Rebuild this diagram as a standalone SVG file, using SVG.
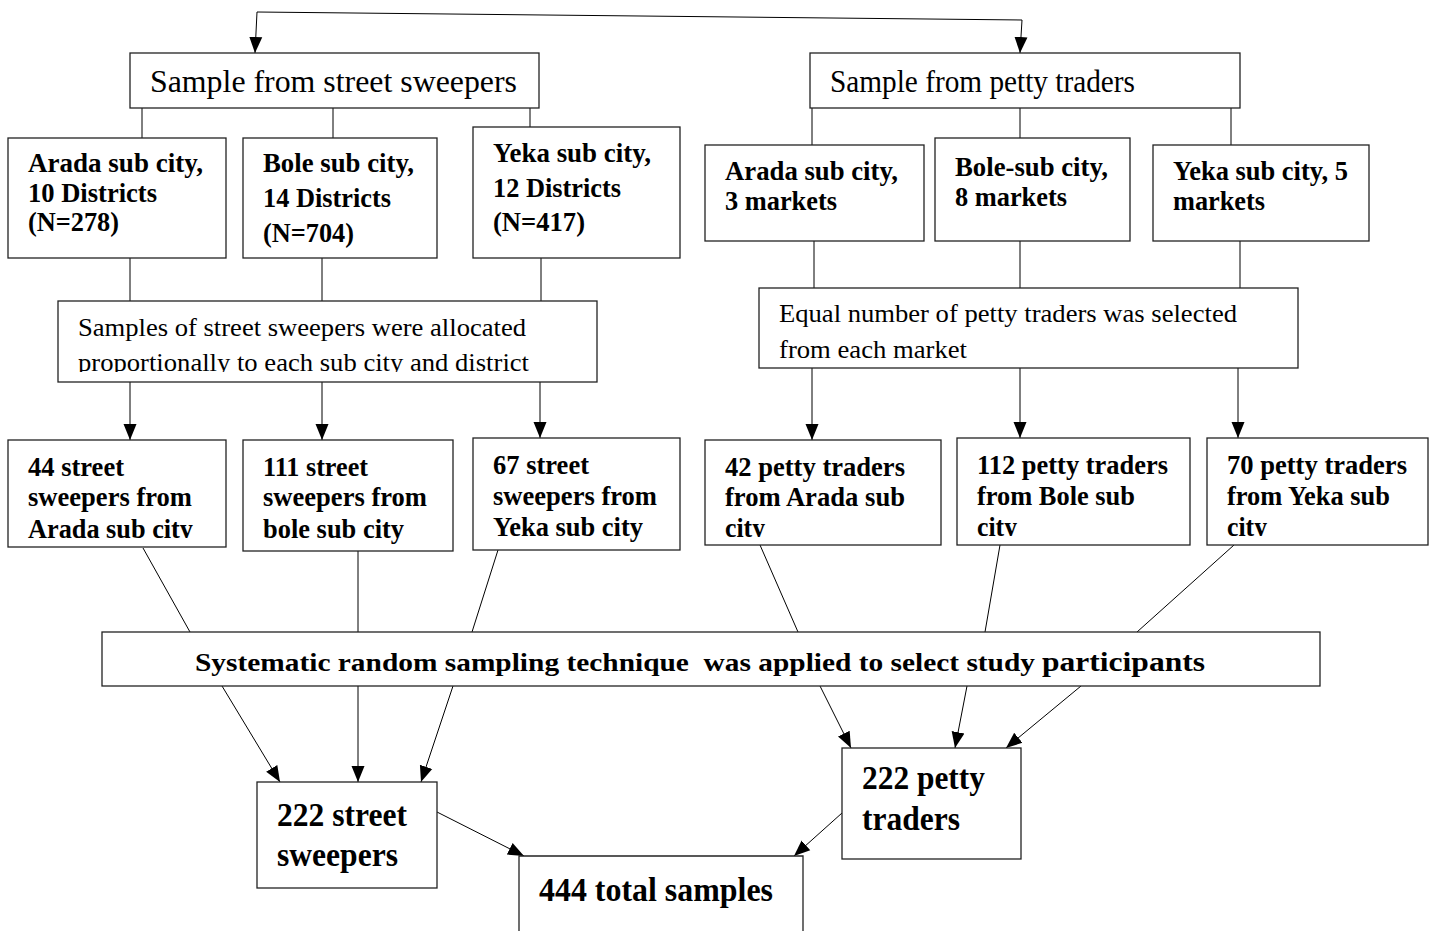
<svg xmlns="http://www.w3.org/2000/svg" width="1434" height="931" viewBox="0 0 1434 931" font-family="'Liberation Serif', Tinos, 'Times New Roman', Times, 'Nimbus Roman', serif">
<style>
.box{fill:#fff;stroke:#222;stroke-width:1.3}
.ln{fill:none;stroke:#000;stroke-width:1}
.ar{fill:none;stroke:#000;stroke-width:1;marker-end:url(#ah)}
.t{fill:#000}
.n{font-size:32px}
.m{font-size:25px}
.b{font-size:27px;font-weight:bold}
.bb{font-size:33px;font-weight:bold}
.s{font-size:26px;font-weight:bold;white-space:pre}
</style>
<defs>
<marker id="ah" markerUnits="userSpaceOnUse" markerWidth="18" markerHeight="18" viewBox="0 0 18 18" refX="16" refY="9" orient="auto">
<path d="M0,2.5 L16,9 L0,15.5 Z" fill="#000"/>
</marker>
<clipPath id="c44"><rect x="8" y="440" width="218" height="98"/></clipPath>
<clipPath id="c42"><rect x="705" y="440" width="236" height="97"/></clipPath>
<clipPath id="c112"><rect x="957" y="438" width="233" height="98"/></clipPath>
<clipPath id="c70"><rect x="1207" y="438" width="221" height="98"/></clipPath>
<clipPath id="cal"><rect x="58" y="301" width="539" height="71"/></clipPath>
</defs>
<rect width="1434" height="931" fill="#fff"/>

<g id="connectors">
<path class="ln" d="M257,12 L1022,20"/>
<path class="ar" d="M257,12 L255,53"/>
<path class="ar" d="M1022,20 L1020,53"/>
<path class="ln" d="M142,108 V138 M333,108 V138 M530,108 V127"/>
<path class="ln" d="M812,108 V145 M1020,108 V138 M1231,108 V145"/>
<path class="ln" d="M130,258 V301 M322,258 V301 M541,258 V301"/>
<path class="ln" d="M814,241 V288 M1020,241 V288 M1240,241 V288"/>
<path class="ar" d="M130,382 V440"/>
<path class="ar" d="M322,382 V440"/>
<path class="ar" d="M540,382 V438"/>
<path class="ar" d="M812,368 V440"/>
<path class="ar" d="M1020,368 V438"/>
<path class="ar" d="M1238,368 V438"/>
<path class="ln" d="M143,548 L190,632 M358,551 V632 M498,550 L472,632"/>
<path class="ln" d="M760,545 L798,632 M1000,545 L985,632 M1234,545 L1137,632"/>
<path class="ar" d="M222,686 L280,782"/>
<path class="ar" d="M358,686 V782"/>
<path class="ar" d="M453,686 L421,782"/>
<path class="ar" d="M820,686 L851,748"/>
<path class="ar" d="M967,686 L955,748"/>
<path class="ar" d="M1081,686 L1006,748"/>
<path class="ar" d="M437,812 L524,856"/>
<path class="ar" d="M842,813 L794,856"/>
</g>

<g id="sample-sweepers">
<rect class="box" x="130" y="53" width="409" height="55"/>
<text class="t n" x="150" y="92" textLength="367" lengthAdjust="spacingAndGlyphs">Sample from street sweepers</text>
</g>
<g id="sample-traders">
<rect class="box" x="810" y="53" width="430" height="55"/>
<text class="t n" x="830" y="92" textLength="305" lengthAdjust="spacingAndGlyphs">Sample from petty traders</text>
</g>

<g id="arada-sc">
<rect class="box" x="8" y="138" width="218" height="120"/>
<text class="t b" x="28" y="172" textLength="175" lengthAdjust="spacingAndGlyphs">Arada sub city,</text>
<text class="t b" x="28" y="202" textLength="129" lengthAdjust="spacingAndGlyphs">10 Districts</text>
<text class="t b" x="28" y="231" textLength="91" lengthAdjust="spacingAndGlyphs">(N=278)</text>
</g>
<g id="bole-sc">
<rect class="box" x="243" y="138" width="194" height="120"/>
<text class="t b" x="263" y="172" textLength="151" lengthAdjust="spacingAndGlyphs">Bole sub city,</text>
<text class="t b" x="263" y="207" textLength="128" lengthAdjust="spacingAndGlyphs">14 Districts</text>
<text class="t b" x="263" y="242" textLength="91" lengthAdjust="spacingAndGlyphs">(N=704)</text>
</g>
<g id="yeka-sc">
<rect class="box" x="473" y="127" width="207" height="131"/>
<text class="t b" x="493" y="162" textLength="158" lengthAdjust="spacingAndGlyphs">Yeka sub city,</text>
<text class="t b" x="493" y="197" textLength="128" lengthAdjust="spacingAndGlyphs">12 Districts</text>
<text class="t b" x="493" y="231" textLength="92" lengthAdjust="spacingAndGlyphs">(N=417)</text>
</g>

<g id="arada-pt">
<rect class="box" x="705" y="145" width="219" height="96"/>
<text class="t b" x="725" y="180" textLength="173" lengthAdjust="spacingAndGlyphs">Arada sub city,</text>
<text class="t b" x="725" y="210" textLength="112" lengthAdjust="spacingAndGlyphs">3 markets</text>
</g>
<g id="bole-pt">
<rect class="box" x="935" y="138" width="195" height="103"/>
<text class="t b" x="955" y="176" textLength="153" lengthAdjust="spacingAndGlyphs">Bole-sub city,</text>
<text class="t b" x="955" y="206" textLength="112" lengthAdjust="spacingAndGlyphs">8 markets</text>
</g>
<g id="yeka-pt">
<rect class="box" x="1153" y="145" width="216" height="96"/>
<text class="t b" x="1173" y="180" textLength="175" lengthAdjust="spacingAndGlyphs">Yeka sub city, 5</text>
<text class="t b" x="1173" y="210" textLength="92" lengthAdjust="spacingAndGlyphs">markets</text>
</g>

<g id="alloc-sweepers">
<rect class="box" x="58" y="301" width="539" height="81"/>
<g clip-path="url(#cal)">
<text class="t m" x="78" y="336" textLength="448" lengthAdjust="spacingAndGlyphs">Samples of street sweepers were allocated</text>
<text class="t m" x="78" y="371" textLength="451" lengthAdjust="spacingAndGlyphs">proportionally to each sub city and district</text>
</g>
</g>
<g id="alloc-traders">
<rect class="box" x="759" y="288" width="539" height="80"/>
<text class="t m" x="779" y="322" textLength="458" lengthAdjust="spacingAndGlyphs">Equal number of petty traders was selected</text>
<text class="t m" x="779" y="358" textLength="188" lengthAdjust="spacingAndGlyphs">from each market</text>
</g>

<g id="ss-arada">
<rect class="box" x="8" y="440" width="218" height="107"/>
<g clip-path="url(#c44)">
<text class="t b" x="28" y="476" textLength="96" lengthAdjust="spacingAndGlyphs">44 street</text>
<text class="t b" x="28" y="506" textLength="164" lengthAdjust="spacingAndGlyphs">sweepers from</text>
<text class="t b" x="28" y="538" textLength="165" lengthAdjust="spacingAndGlyphs">Arada sub city</text>
</g>
</g>
<g id="ss-bole">
<rect class="box" x="243" y="440" width="210" height="111"/>
<text class="t b" x="263" y="476" textLength="105" lengthAdjust="spacingAndGlyphs">111 street</text>
<text class="t b" x="263" y="506" textLength="164" lengthAdjust="spacingAndGlyphs">sweepers from</text>
<text class="t b" x="263" y="538" textLength="141" lengthAdjust="spacingAndGlyphs">bole sub city</text>
</g>
<g id="ss-yeka">
<rect class="box" x="473" y="438" width="207" height="112"/>
<text class="t b" x="493" y="474" textLength="96" lengthAdjust="spacingAndGlyphs">67 street</text>
<text class="t b" x="493" y="505" textLength="164" lengthAdjust="spacingAndGlyphs">sweepers from</text>
<text class="t b" x="493" y="536" textLength="150" lengthAdjust="spacingAndGlyphs">Yeka sub city</text>
</g>

<g id="pt-arada">
<rect class="box" x="705" y="440" width="236" height="105"/>
<g clip-path="url(#c42)">
<text class="t b" x="725" y="476" textLength="180" lengthAdjust="spacingAndGlyphs">42 petty traders</text>
<text class="t b" x="725" y="506" textLength="180" lengthAdjust="spacingAndGlyphs">from Arada sub</text>
<text class="t b" x="725" y="537" textLength="40" lengthAdjust="spacingAndGlyphs">city</text>
</g>
</g>
<g id="pt-bole">
<rect class="box" x="957" y="438" width="233" height="107"/>
<g clip-path="url(#c112)">
<text class="t b" x="977" y="474" textLength="191" lengthAdjust="spacingAndGlyphs">112 petty traders</text>
<text class="t b" x="977" y="505" textLength="158" lengthAdjust="spacingAndGlyphs">from Bole sub</text>
<text class="t b" x="977" y="536" textLength="40" lengthAdjust="spacingAndGlyphs">city</text>
</g>
</g>
<g id="pt-yeka">
<rect class="box" x="1207" y="438" width="221" height="107"/>
<g clip-path="url(#c70)">
<text class="t b" x="1227" y="474" textLength="180" lengthAdjust="spacingAndGlyphs">70 petty traders</text>
<text class="t b" x="1227" y="505" textLength="163" lengthAdjust="spacingAndGlyphs">from Yeka sub</text>
<text class="t b" x="1227" y="536" textLength="40" lengthAdjust="spacingAndGlyphs">city</text>
</g>
</g>

<g id="systematic">
<rect class="box" x="102" y="632" width="1218" height="54"/>
<text class="t s" x="195" y="671" textLength="840" lengthAdjust="spacingAndGlyphs">Systematic random sampling technique  was applied to select study</text>
<text class="t b" x="1042" y="671" font-size="28" textLength="163" lengthAdjust="spacingAndGlyphs">participants</text>
</g>

<g id="total-sweepers">
<rect class="box" x="257" y="782" width="180" height="106"/>
<text class="t bb" x="277" y="826" textLength="130" lengthAdjust="spacingAndGlyphs">222 street</text>
<text class="t bb" x="277" y="866" textLength="121" lengthAdjust="spacingAndGlyphs">sweepers</text>
</g>
<g id="total-traders">
<rect class="box" x="842" y="748" width="179" height="111"/>
<text class="t bb" x="862" y="789" textLength="123" lengthAdjust="spacingAndGlyphs">222 petty</text>
<text class="t bb" x="862" y="830" textLength="98" lengthAdjust="spacingAndGlyphs">traders</text>
</g>
<g id="total-samples">
<path class="box" d="M519,940 V856 H803 V940"/>
<text class="t bb" x="539" y="901" textLength="234" lengthAdjust="spacingAndGlyphs">444 total samples</text>
</g>
</svg>
